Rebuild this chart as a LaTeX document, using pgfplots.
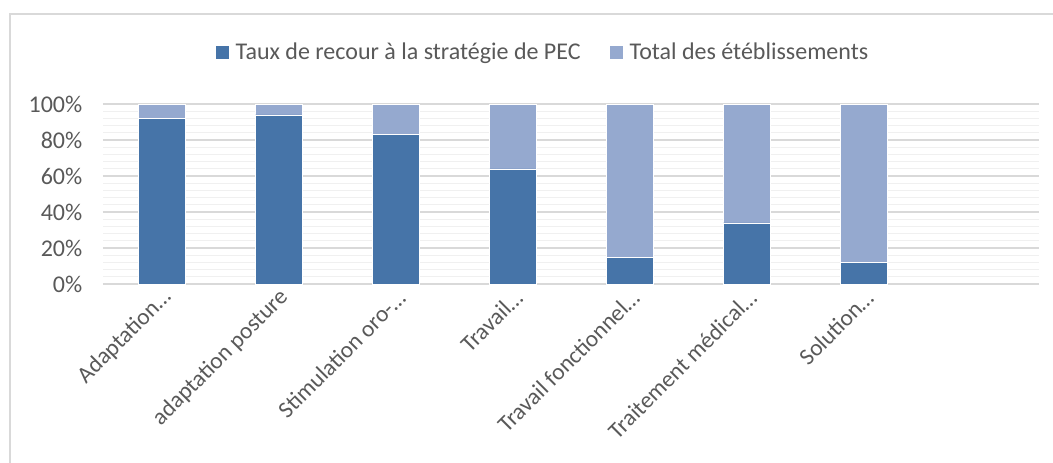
\documentclass[border=0pt]{standalone}
\usepackage{fontspec}
\setmainfont{Carlito}
\usepackage{pgfplots}
\pgfplotsset{compat=1.18}
\definecolor{darkbar}{HTML}{4674A8}
\definecolor{lightbar}{HTML}{95A9CF}
\definecolor{txtgray}{HTML}{595959}
\definecolor{majgrid}{HTML}{D9D9D9}
\definecolor{mingrid}{HTML}{F0F0F0}

\begin{document}
\begin{tikzpicture}
\path[use as bounding box] (0pt,0pt) rectangle (789.75pt,346.5pt);
% frame of the chart area (right and bottom edges fall outside the crop)
\draw[majgrid, line width=1pt] (7.5pt,-2pt) -- (7.5pt,336pt) -- (792pt,336pt);
\begin{axis}[
  at={(77.25pt,133.5pt)}, anchor=south west,
  scale only axis, width=702pt, height=135pt,
  ybar stacked, bar width=35pt,
  xmin=-0.5, xmax=7.5, ymin=0, ymax=100,
  xtick={0,...,6},
  xticklabels={Adaptation…, adaptation posture, Stimulation oro-…, Travail…, Travail fonctionnel…, Traitement médical…, Solution…},
  xticklabel style={xshift=7pt, yshift=-5pt, rotate=45, anchor=east, font=\fontsize{17.5}{21}\selectfont, text=txtgray},
  ytick={0,20,...,100},
  yticklabel={\pgfmathprintnumber{\tick}\%},
  yticklabel style={xshift=-12pt, font=\fontsize{18}{21}\selectfont, text=txtgray},
  /pgf/number format/assume math mode=true,
  minor y tick num=4,
  ymajorgrids, yminorgrids,
  major grid style={majgrid, line width=1pt},
  minor grid style={mingrid, line width=0.75pt},
  axis x line*=bottom, axis y line*=left,
  x axis line style={majgrid, line width=1pt, -},
  y axis line style={draw=none},
  major tick length=0pt, minor tick length=0pt,
  legend columns=2,
  legend style={at={(0.472,1.289)}, anchor=center, draw=none, font=\fontsize{18}{21}\selectfont, text=txtgray,
    nodes={inner xsep=4.5pt}},
  legend image code/.code={\fill[#1] (0pt,-5.25pt) rectangle (10.5pt,5.25pt);},
]
\addplot[fill=darkbar, draw=white, line width=0.3pt] coordinates {(0,92) (1,94) (2,83) (3,64) (4,15) (5,34) (6,12)};
\addlegendentry{Taux de recour à la stratégie de PEC\kern17pt}
\addplot[fill=lightbar, draw=white, line width=0.3pt] coordinates {(0,8) (1,6) (2,17) (3,36) (4,85) (5,66) (6,88)};
\addlegendentry{Total des étéblissements}
\end{axis}
\end{tikzpicture}
\end{document}
